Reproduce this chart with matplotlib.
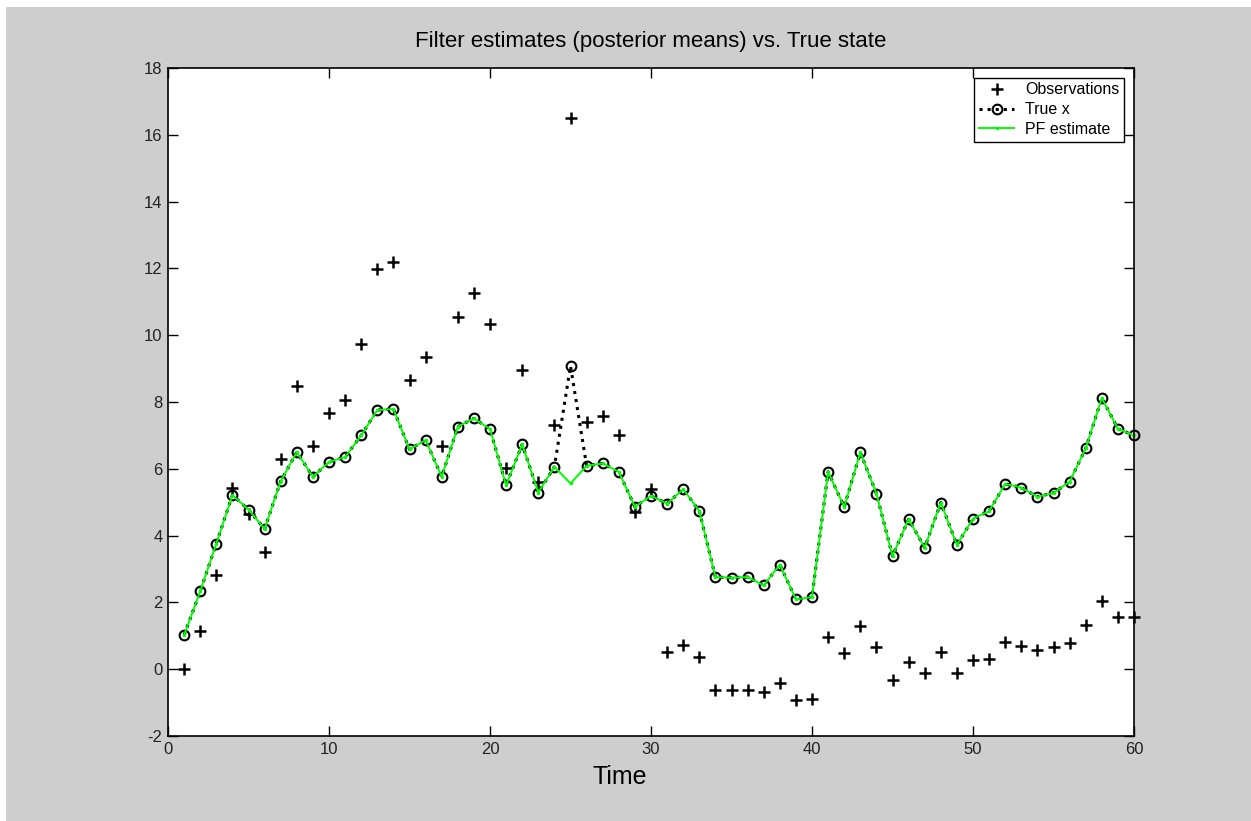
import matplotlib.pyplot as plt
from matplotlib.patches import Rectangle

plt.rcParams['font.family'] = ['Liberation Sans', 'DejaVu Sans']
plt.rcParams['axes.unicode_minus'] = False

# time steps 1..60
time = list(range(1, 61))

true_x = [1.02, 2.33, 3.76, 5.21, 4.78, 4.20, 5.63, 6.50, 5.76, 6.21,
          6.35, 7.00, 7.76, 7.79, 6.58, 6.86, 5.76, 7.26, 7.51, 7.19,
          5.51, 6.73, 5.29, 6.06, 9.08, 6.09, 6.16, 5.91, 4.86, 5.19,
          4.96, 5.39, 4.74, 2.76, 2.74, 2.76, 2.51, 3.13, 2.09, 2.16,
          5.91, 4.86, 6.49, 5.26, 3.39, 4.49, 3.64, 4.99, 3.72, 4.51,
          4.73, 5.55, 5.44, 5.16, 5.28, 5.61, 6.61, 8.12, 7.20, 7.00]

pf_estimate = [1.02, 2.33, 3.76, 5.21, 4.78, 4.20, 5.63, 6.50, 5.76, 6.21,
               6.35, 7.00, 7.76, 7.79, 6.58, 6.86, 5.76, 7.26, 7.51, 7.19,
               5.51, 6.73, 5.29, 6.06, 5.56, 6.09, 6.16, 5.91, 4.86, 5.19,
               4.96, 5.39, 4.74, 2.76, 2.74, 2.76, 2.51, 3.13, 2.09, 2.16,
               5.91, 4.86, 6.49, 5.26, 3.39, 4.49, 3.64, 4.99, 3.72, 4.51,
               4.73, 5.55, 5.44, 5.16, 5.28, 5.61, 6.61, 8.12, 7.20, 7.00]

observations = [0.00, 1.14, 2.81, 5.44, 4.66, 3.50, 6.28, 8.47, 6.68, 7.66,
                8.05, 9.74, 11.97, 12.18, 8.65, 9.34, 6.68, 10.55, 11.25, 10.33,
                6.01, 8.97, 5.61, 7.31, 16.49, 7.40, 7.58, 7.00, 4.72, 5.41,
                0.52, 0.72, 0.37, -0.61, -0.61, -0.61, -0.68, -0.41, -0.93, -0.90,
                0.97, 0.49, 1.30, 0.67, -0.31, 0.22, -0.10, 0.52, -0.10, 0.27,
                0.32, 0.80, 0.70, 0.57, 0.67, 0.77, 1.32, 2.05, 1.57, 1.55]

fig = plt.figure(figsize=(12.51, 8.21), dpi=100, facecolor='white')

# grey MATLAB-style figure background with a thin white border top/left
fig.patches.append(Rectangle((6 / 1251, 0), 1, 1 - 7 / 821,
                             transform=fig.transFigure, facecolor='#cecece',
                             edgecolor='none', zorder=-10))

ax = fig.add_axes([168 / 1251, 85 / 821, 966 / 1251, 668 / 821])
ax.set_facecolor('white')

ax.plot(time, observations, linestyle='none', marker='+', color='black',
        markersize=9, markeredgewidth=1.8, label='Observations', clip_on=False)
ax.plot(time, true_x, linestyle=':', color='black', linewidth=2.2,
        marker='o', markersize=7, markerfacecolor='none',
        markeredgewidth=1.5, label='True x', clip_on=False)
ax.plot(time, pf_estimate, linestyle='-', color='#00ff00', linewidth=1.4,
        marker='.', markersize=3, label='PF estimate', clip_on=False)

ax.set_xlim(0, 60)
ax.set_ylim(-2, 18)
ax.set_xticks(range(0, 61, 10))
ax.set_yticks(range(-2, 19, 2))

ax.tick_params(direction='in', length=7, width=1, top=True, right=True,
               labelsize=12, colors='black', labelcolor='#222222', pad=4)
for spine in ax.spines.values():
    spine.set_linewidth(1.2)

ax.set_title('Filter estimates (posterior means) vs. True state',
             fontsize=16, pad=15)
ax.set_xlabel('Time', fontsize=18)
ax.xaxis.set_label_coords((620 - 168) / 966, -0.044)

leg = ax.legend(loc='upper right', fontsize=11.5, frameon=True, fancybox=False,
                edgecolor='black', framealpha=1, borderaxespad=0.6,
                handlelength=2.2, handletextpad=0.7, borderpad=0.3,
                labelspacing=0.3)
leg.get_frame().set_linewidth(1)

fig.savefig('out.png', dpi=100, facecolor=fig.get_facecolor())
